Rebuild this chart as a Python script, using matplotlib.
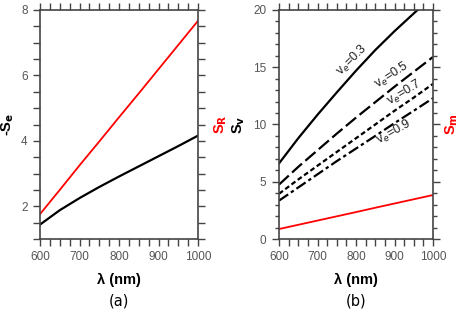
import matplotlib
matplotlib.use("Agg")
import matplotlib.pyplot as plt
from matplotlib.ticker import MultipleLocator

plt.rcParams["font.family"] = ["Liberation Sans", "DejaVu Sans"]

wl = [600, 650, 700, 750, 800, 850, 900, 950, 1000]
# panel (a)
s_r = [1.76, 2.50, 3.25, 3.98, 4.72, 5.45, 6.19, 6.93, 7.67]
neg_se = [1.44, 1.88, 2.25, 2.59, 2.91, 3.22, 3.53, 3.84, 4.16]
# panel (b)
sv_03 = [6.6, 8.8, 10.85, 12.8, 14.7, 16.5, 18.15, 19.7, 21.2]
sv_05 = [4.75, 6.3, 7.75, 9.2, 10.6, 11.95, 13.3, 14.6, 15.9]
sv_07 = [3.95, 5.2, 6.4, 7.6, 8.8, 10.0, 11.2, 12.35, 13.55]
sv_09 = [3.35, 4.5, 5.65, 6.8, 7.9, 9.0, 10.12, 11.2, 12.3]
s_m = [0.87, 1.24, 1.61, 1.98, 2.35, 2.73, 3.10, 3.47, 3.84]
ve_labels = ["v$_e$=0.3", "v$_e$=0.5", "v$_e$=0.7", "v$_e$=0.9"]

grey = "#444444"
fig = plt.figure(figsize=(4.63, 3.15), dpi=100)
ax_a = fig.add_axes([40 / 463, 76 / 315, 158 / 463, 229 / 315])
ax_b = fig.add_axes([279 / 463, 76 / 315, 154 / 463, 229 / 315])


def style(ax, ymin, ymax, ymaj, ymin_step, yminor_len):
    ax.set_xlim(600, 1000)
    ax.set_ylim(ymin, ymax)
    ax.xaxis.set_major_locator(MultipleLocator(100))
    ax.xaxis.set_minor_locator(MultipleLocator(25))
    ax.yaxis.set_major_locator(MultipleLocator(ymaj))
    ax.yaxis.set_minor_locator(MultipleLocator(ymin_step))
    ax.tick_params(which="both", direction="out", top=True, right=True,
                   color=grey, width=1, labelsize=8.5, labelcolor="#555555")
    ax.tick_params(which="major", length=5, pad=4)
    ax.tick_params(which="minor", length=5)
    ax.tick_params(axis="y", which="minor", length=yminor_len)
    for sp in ax.spines.values():
        sp.set_color(grey)
        sp.set_linewidth(1.2)
    ax.set_xlabel("λ (nm)", fontsize=10.5, fontweight="bold")
    ax.xaxis.set_label_coords(0.5, -0.15)


style(ax_a, 1, 8, 2, 0.5, 5)
ax_a.plot(wl, s_r, color="red", lw=1.3)
ax_a.plot(wl, neg_se, color="black", lw=1.6)
ax_a.set_ylabel("-S$_\\mathbf{e}$", fontsize=10.5, fontweight="bold")
ax_a.yaxis.set_label_coords(-0.152, 0.5)
ax_a.text(1.09, 0.5, "S$_\\mathbf{R}$", transform=ax_a.transAxes, rotation=90,
          color="red", fontsize=10.5, fontweight="bold", va="center", ha="left")
ax_a.text(0.5, -0.27, "(a)", transform=ax_a.transAxes, ha="center", va="center",
          fontsize=10.5, family="DejaVu Sans")

style(ax_b, 0, 20, 5, 1, 3)
ax_b.plot(wl, sv_03, color="black", lw=1.6)
ax_b.plot(wl, sv_05, color="black", lw=1.6, dashes=(6, 2))
ax_b.plot(wl, sv_07, color="black", lw=1.6, dashes=(2.2, 1.3))
ax_b.plot(wl, sv_09, color="black", lw=1.6, dashes=(5, 1.5, 1.5, 1.5))
ax_b.plot(wl, s_m, color="red", lw=1.3)
label_pos = [(790, 15.6, 45), (893, 14.3, 33), (925, 12.8, 31), (899, 9.3, 29)]
for lab, (x, y, r) in zip(ve_labels, label_pos):
    ax_b.text(x, y, lab, rotation=r, fontsize=9, ha="center", va="center",
              color="#222222", rotation_mode="anchor")
ax_b.set_ylabel("S$_\\mathbf{v}$", fontsize=10.5, fontweight="bold")
ax_b.yaxis.set_label_coords(-0.211, 0.5)
ax_b.text(1.07, 0.5, "S$_\\mathbf{m}$", transform=ax_b.transAxes, rotation=90,
          color="red", fontsize=10.5, fontweight="bold", va="center", ha="left")
ax_b.text(0.5, -0.27, "(b)", transform=ax_b.transAxes, ha="center", va="center",
          fontsize=10.5, family="DejaVu Sans")

fig.savefig("out.png", dpi=100)
plt.close(fig)
